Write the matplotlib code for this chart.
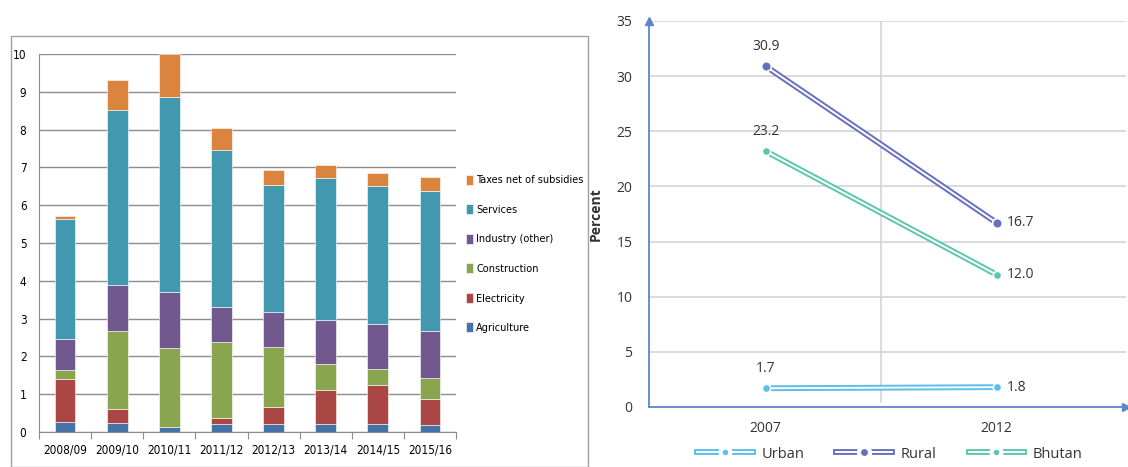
import numpy as np
import matplotlib
matplotlib.use('Agg')
import matplotlib.pyplot as plt
from matplotlib.lines import Line2D
from matplotlib.patches import Rectangle
from matplotlib.legend_handler import HandlerTuple

# left chart data (percentage points, stacked)
years = ['2008/09', '2009/10', '2010/11', '2011/12', '2012/13', '2013/14', '2014/15', '2015/16']
agriculture = [0.27, 0.24, 0.12, 0.22, 0.22, 0.22, 0.20, 0.19]
electricity = [1.12, 0.36, 0.02, 0.15, 0.44, 0.90, 1.05, 0.67]
construction = [0.26, 2.07, 2.08, 2.00, 1.58, 0.67, 0.41, 0.56]
industry_other = [0.80, 1.23, 1.49, 0.94, 0.94, 1.18, 1.19, 1.24]
services = [3.19, 4.61, 5.16, 4.14, 3.35, 3.75, 3.66, 3.72]
taxes = [0.08, 0.80, 1.13, 0.60, 0.39, 0.35, 0.35, 0.37]

# right chart data
survey_years = ['2007', '2012']
urban = [1.7, 1.8]
rural = [30.9, 16.7]
bhutan = [23.2, 12.0]

narrow = ['DejaVu Sans']
sans = ['Open Sans', 'DejaVu Sans']

fig = plt.figure(figsize=(11.28, 4.67), dpi=100)
W, H = 1128, 467

# ---------- left: stacked bars ----------
ax1 = fig.add_axes([39 / W, (H - 432) / H, 417 / W, 378 / H])
series = [('Agriculture', agriculture, '#4572A7'),
          ('Electricity', electricity, '#AA4643'),
          ('Construction', construction, '#89A54E'),
          ('Industry (other)', industry_other, '#71588F'),
          ('Services', services, '#4198AF'),
          ('Taxes net of subsidies', taxes, '#DB843D')]
x = np.arange(len(years))
bottom = np.zeros(len(years))
bars = []
for name, vals, col in series:
    b = ax1.bar(x, vals, 0.40, bottom=bottom, color=col, edgecolor='white',
                linewidth=0.4, label=name, zorder=3)
    bars.append(b)
    bottom += np.array(vals)

ax1.set_xlim(-0.5, len(years) - 0.5)
ax1.set_ylim(0, 10)
ax1.set_yticks(range(0, 11))
ax1.yaxis.grid(True, color='#8c8c8c', linewidth=1.0, zorder=0)
ax1.set_xticks(np.arange(-0.5, len(years)), labels=[])
ax1.set_xticks(x, labels=years, minor=True)
ax1.tick_params(axis='x', which='major', length=5, color='#8c8c8c', direction='out')
ax1.tick_params(axis='x', which='minor', length=0, pad=8)
ax1.tick_params(axis='y', length=0, pad=9)
for lab in ax1.get_xticklabels(minor=True) + ax1.get_yticklabels():
    lab.set_fontfamily(narrow)
    lab.set_fontstretch('condensed')
    lab.set_fontsize(8.5)
for s in ['top', 'right']:
    ax1.spines[s].set_visible(False)
for s in ['left', 'bottom']:
    ax1.spines[s].set_color('#8c8c8c')

leg1 = ax1.legend(handles=bars[::-1], loc='center left', bbox_to_anchor=(1.0, 0.471),
                  frameon=False, prop={'family': narrow, 'size': 7.8, 'stretch': 'condensed'},
                  handlelength=0.7, handleheight=1.0, handletextpad=0.25,
                  labelspacing=1.75)

fig.patches.append(Rectangle((11 / W, 0), (588 - 11) / W, (H - 36) / H,
                             transform=fig.transFigure, fill=False,
                             edgecolor='#a0a0a0', linewidth=1.0))

# ---------- right: poverty lines ----------
ax2 = fig.add_axes([649 / W, (H - 407) / H, (1126 - 649) / W, (407 - 21) / H])
axis_blue = '#5B86CC'
text_col = '#333333'
xs = np.array([0, 1])
handles = []
for name, vals, col, ms in [('Urban', urban, '#5BBFEA', 6),
                            ('Rural', rural, '#6670BE', 7),
                            ('Bhutan', bhutan, '#5CC6AE', 6)]:
    ax2.plot(xs, vals, color=col, linewidth=4.2, solid_capstyle='butt', zorder=3)
    ax2.plot(xs, vals, color='white', linewidth=1.4, solid_capstyle='butt', zorder=4)
    ax2.plot(xs, vals, 'o', color=col, markersize=ms, markeredgecolor='white',
             markeredgewidth=1.2, zorder=5)
    ax2.annotate(f'{vals[0]:.1f}', (0, vals[0]), xytext=(0, 9), textcoords='offset points',
                 ha='center', va='bottom', fontsize=10, color=text_col, family=sans)
    ax2.annotate(f'{vals[1]:.1f}', (1, vals[1]), xytext=(7, 0), textcoords='offset points',
                 ha='left', va='center', fontsize=10, color=text_col, family=sans)
    h_thick = Line2D([], [], color=col, linewidth=4.2)
    h_thin = Line2D([], [], color='white', linewidth=1.4)
    h_mark = Line2D([], [], marker='o', color=col, markersize=ms + 1, linestyle='none',
                    markeredgecolor='white', markeredgewidth=3)
    handles.append(((h_thick, h_thin, h_mark), name))

ax2.set_xlim(-0.505, 1.56)
ax2.set_ylim(0, 35)
ax2.set_yticks(range(0, 36, 5))
ax2.set_xticks(xs, labels=survey_years)
ax2.yaxis.grid(True, color='#d4d4d4', linewidth=1.2, zorder=0)
ax2.axvline(0.5, ymin=0.014, color='#d4d4d4', linewidth=1.2, zorder=0)
ax2.tick_params(length=0, labelsize=10, labelcolor=text_col)
ax2.tick_params(axis='y', pad=12)
ax2.tick_params(axis='x', pad=10)
for lab in ax2.get_xticklabels() + ax2.get_yticklabels():
    lab.set_fontfamily(sans)
for s in ['top', 'right']:
    ax2.spines[s].set_visible(False)
for s in ['left', 'bottom']:
    ax2.spines[s].set_color(axis_blue)
    ax2.spines[s].set_linewidth(1.3)
ax2.plot(0, 1, '^', transform=ax2.transAxes, color=axis_blue, markersize=6,
         clip_on=False, zorder=6)
ax2.plot(1, 0, '>', transform=ax2.transAxes, color=axis_blue, markersize=6,
         clip_on=False, zorder=6)
ax2.set_ylabel('Percent', fontsize=10, fontweight='bold', color=text_col,
               family=sans, labelpad=10)

leg2 = ax2.legend([h for h, _ in handles], [n for _, n in handles],
                  handler_map={tuple: HandlerTuple(ndivide=1, pad=0)},
                  loc='center', bbox_to_anchor=(0.505, -0.122), ncol=3,
                  frameon=False, handlelength=3.8, columnspacing=2.2,
                  handletextpad=0.6, borderpad=0, prop={'family': sans, 'size': 10.5})
for t in leg2.get_texts():
    t.set_color(text_col)

fig.savefig('out.png', dpi=100, facecolor='white')
